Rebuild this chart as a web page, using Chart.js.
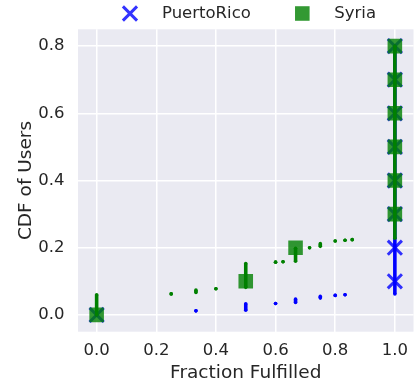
<!DOCTYPE html>
<html>
<head>
<meta charset="utf-8">
<script src="https://cdn.jsdelivr.net/npm/chart.js@4/dist/chart.umd.min.js"></script>
<style>
  html, body { margin: 0; padding: 0; background: #ffffff; }
  canvas { display: block; }
</style>
</head>
<body>
<canvas id="cdf" width="414" height="385"></canvas>
<script>
// Tick positions
const xTicks = [0, 0.2, 0.4, 0.6, 0.8, 1.0];
const yTicks = [0, 0.2, 0.4, 0.6, 0.8];

// Syria: CDF points stacked at each fraction (lowest and highest CDF value)
const syriaStackX    = [0, 0.25, 0.333, 0.4, 0.5, 0.6, 0.625, 0.667, 0.714, 0.75, 0.8, 0.833, 0.857, 1.0];
const syriaStackLow  = [0, 0.0625, 0.067, 0.078, 0.082, 0.157, 0.158, 0.160, 0.200, 0.204, 0.220, 0.222, 0.224, 0.228];
const syriaStackHigh = [0.060, 0.0625, 0.074, 0.078, 0.153, 0.157, 0.158, 0.198, 0.200, 0.212, 0.220, 0.222, 0.224, 0.800];

// PuertoRico: CDF points stacked at each fraction
const prStackX    = [0, 0.333, 0.5, 0.6, 0.667, 0.75, 0.8, 0.833, 1.0];
const prStackLow  = [0, 0.012, 0.014, 0.034, 0.037, 0.050, 0.058, 0.060, 0.062];
const prStackHigh = [0, 0.012, 0.033, 0.034, 0.047, 0.055, 0.058, 0.060, 0.800];

// Highlighted markers at every 0.1 step of the CDF
const syriaMarkX = [0, 0.5, 0.667, 1, 1, 1, 1, 1, 1];
const syriaMarkY = [0, 0.1, 0.2, 0.3, 0.4, 0.5, 0.6, 0.7, 0.8];
const prMarkX    = [0, 1, 1, 1, 1, 1, 1, 1, 1];
const prMarkY    = [0, 0.1, 0.2, 0.3, 0.4, 0.5, 0.6, 0.7, 0.8];

const FONT = '"DejaVu Sans", "Liberation Sans", sans-serif';
const TEXT = '#262626';
const BLUE = '#0000ff';
const GREEN = '#008000';

function stackPoints(xs, lo, hi) {
  const pts = [];
  xs.forEach((x, i) => {
    pts.push({ x, y: lo[i] }, { x, y: hi[i] }, { x, y: null });
  });
  return pts;
}
function markPoints(xs, ys) {
  return xs.map((x, i) => ({ x, y: ys[i] }));
}

function stackDataset(color, pts, order) {
  return {
    data: pts, order, showLine: true, spanGaps: false,
    borderColor: color, borderWidth: 3.6, borderCapStyle: 'butt',
    pointRadius: 1.8, pointBackgroundColor: color, pointBorderWidth: 0,
    pointHoverRadius: 1.8
  };
}

function noScalePadding(s) {
  s.paddingLeft = 0; s.paddingRight = 0; s.paddingTop = 0; s.paddingBottom = 0;
}

// Plot background fill
const panelBg = {
  id: 'panelBg',
  beforeDraw(chart) {
    const { ctx, chartArea: a } = chart;
    ctx.save();
    ctx.fillStyle = '#ffffff';
    ctx.fillRect(0, 0, chart.width, chart.height);
    ctx.fillStyle = '#eaeaf2';
    ctx.fillRect(a.left, a.top, a.right - a.left, a.bottom - a.top);
    ctx.restore();
  }
};

// Legend row above the plot
const topLegend = {
  id: 'topLegend',
  afterDraw(chart) {
    const { ctx, chartArea: a } = chart;
    const items = chart.data.datasets.filter(d => d.label);
    const size = 16.5;
    const half = 8.5, toText = 32, between = 43;
    ctx.save();
    ctx.font = size + 'px ' + FONT;
    const widths = items.map(d => ctx.measureText(d.label).width);
    let total = 0;
    items.forEach((d, i) => { total += half + toText + widths[i]; });
    total += between * (items.length - 1);
    let x = (a.left + a.right) / 2 - total / 2 + 3;
    const cy = 13.5;
    items.forEach((d, i) => {
      const cx = x + half;
      const r = d.pointRadius;
      if (d.pointStyle === 'crossRot') {
        const o = Math.SQRT1_2 * r;
        ctx.strokeStyle = d.borderColor;
        ctx.lineWidth = d.borderWidth;
        ctx.beginPath();
        ctx.moveTo(cx - o, cy - o); ctx.lineTo(cx + o, cy + o);
        ctx.moveTo(cx + o, cy - o); ctx.lineTo(cx - o, cy + o);
        ctx.stroke();
      } else {
        const s = Math.SQRT1_2 * r;
        ctx.fillStyle = d.backgroundColor;
        ctx.fillRect(cx - s, cy - s, 2 * s, 2 * s);
      }
      ctx.fillStyle = TEXT;
      ctx.textBaseline = 'alphabetic';
      ctx.textAlign = 'left';
      ctx.fillText(d.label, x + half + toText, 17.5);
      x += half + toText + widths[i] + between;
    });
    ctx.restore();
  }
};

new Chart(document.getElementById('cdf'), {
  type: 'scatter',
  data: {
    datasets: [
      {
        label: 'PuertoRico', data: markPoints(prMarkX, prMarkY), order: 2,
        pointStyle: 'crossRot', pointRadius: 10, pointHoverRadius: 10,
        borderColor: 'rgba(0,0,255,0.8)', backgroundColor: 'rgba(0,0,255,0.8)', borderWidth: 3
      },
      {
        label: 'Syria', data: markPoints(syriaMarkX, syriaMarkY), order: 0,
        pointStyle: 'rect', pointRadius: 10.3, pointHoverRadius: 10.3,
        backgroundColor: 'rgba(0,128,0,0.8)', borderColor: 'rgba(0,128,0,0.8)', borderWidth: 0
      },
      stackDataset(BLUE, stackPoints(prStackX, prStackLow, prStackHigh), 3),
      stackDataset(GREEN, stackPoints(syriaStackX, syriaStackLow, syriaStackHigh), 1)
    ]
  },
  options: {
    responsive: false,
    animation: false,
    events: [],
    layout: { autoPadding: false, padding: { top: 29.3, right: 0.5, left: 0, bottom: 0 } },
    plugins: { legend: { display: false }, tooltip: { enabled: false } },
    scales: {
      x: {
        type: 'linear', min: -0.0625, max: 1.0625,
        afterBuildTicks: s => { s.ticks = xTicks.map(v => ({ value: v })); },
        afterFit: s => { s.height = 53.3; noScalePadding(s); },
        grid: { color: '#ffffff', lineWidth: 1.5, drawTicks: false },
        border: { display: false },
        ticks: { padding: 9.5, color: TEXT, font: { family: FONT, size: 16.5 },
                 callback: v => Number(v).toFixed(1), maxRotation: 0 },
        title: { display: true, text: 'Fraction Fulfilled', color: TEXT,
                 font: { family: FONT, size: 18.5 }, padding: { top: 0, bottom: 1 } }
      },
      y: {
        type: 'linear', min: -0.05, max: 0.85,
        afterBuildTicks: s => { s.ticks = yTicks.map(v => ({ value: v })); },
        afterFit: s => { s.width = 78; noScalePadding(s); },
        grid: { color: '#ffffff', lineWidth: 1.5, drawTicks: false },
        border: { display: false },
        ticks: { padding: 13.5, color: TEXT, font: { family: FONT, size: 16.5 },
                 callback: v => Number(v).toFixed(1) },
        title: { display: true, text: 'CDF of Users', color: TEXT,
                 font: { family: FONT, size: 18.5 }, padding: { top: 15, bottom: 0 } }
      }
    }
  },
  plugins: [panelBg, topLegend]
});
</script>
</body>
</html>
